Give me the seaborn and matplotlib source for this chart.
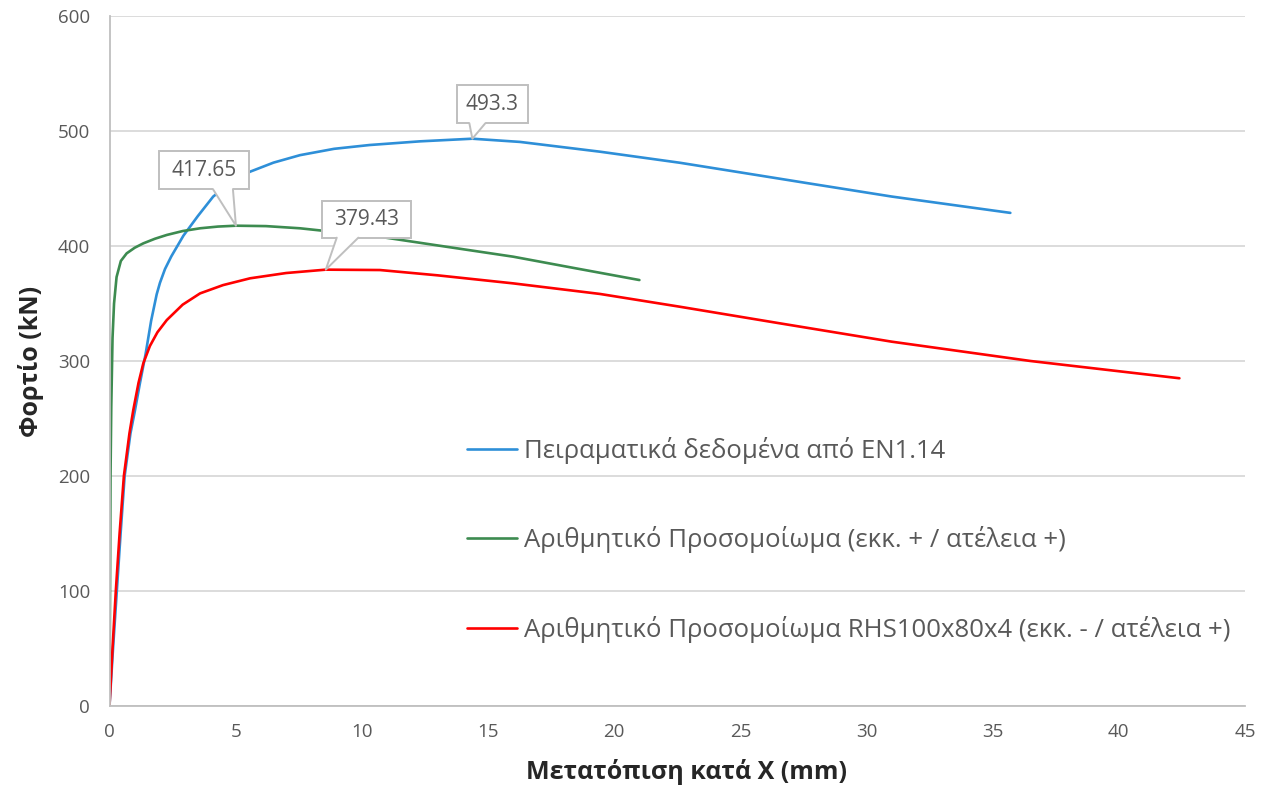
import numpy as np
import pandas as pd
import matplotlib
matplotlib.use('Agg')
from matplotlib import pyplot as plt
from matplotlib.patches import Rectangle, Polygon
from matplotlib.lines import Line2D
from matplotlib.transforms import IdentityTransform
import seaborn as sns

# displacement (mm) / load (kN)
exp_x = [0, 0.14, 0.29, 0.44, 0.6, 0.83, 1.0, 1.2, 1.43, 1.65, 1.87, 2.0, 2.2, 2.45,
         2.93, 3.5, 4.11, 4.8, 5.57, 6.5, 7.55, 8.9, 10.3, 12.3, 14.38, 16.27,
         19.44, 22.6, 25.0, 27.7, 31.0, 35.7]
exp_y = [0, 50, 100, 150, 200, 237, 256, 280, 306, 335, 358, 368, 380, 391,
         409, 426, 443, 455, 464.6, 472.5, 479, 484.5, 487.8, 491, 493.3, 490.5,
         482, 472.4, 464, 454.5, 443, 428.8]

num1_x = [0, 0.02, 0.04, 0.07, 0.12, 0.18, 0.28, 0.45, 0.68, 1.0, 1.34, 1.8, 2.27,
          2.9, 3.59, 4.3, 5.01, 6.2, 7.55, 9.0, 10.72, 13.0, 16.0, 18.5, 21.0]
num1_y = [0, 100, 200, 260, 320, 350, 373, 387, 393.6, 398.5, 402.3, 406.3, 409.6,
          413, 415.4, 416.9, 417.65, 417.3, 415.4, 412, 408, 400.5, 390.7, 380.5, 370.4]

num2_x = [0, 0.12, 0.25, 0.4, 0.57, 0.79, 0.94, 1.15, 1.34, 1.6, 1.9, 2.27, 2.9,
          3.59, 4.5, 5.57, 7.0, 8.57, 10.72, 13.0, 16.0, 19.44, 22.6, 26.5, 31.0,
          36.5, 42.4]
num2_y = [0, 50, 100, 150, 200, 237, 257, 281, 298, 313, 325, 335.6, 349,
          358.8, 366, 371.9, 376.5, 379.43, 379.1, 374.5, 367.5, 358.3, 347.2, 333,
          316.8, 300, 285]

peaks_x = [14.38, 5.01, 8.57]
peaks_y = [493.3, 417.65, 379.43]
peak_labels = ['493.3', '417.65', '379.43']

series_names = [
    'Πειραματικά δεδομένα από EN1.14',
    'Αριθμητικό Προσομοίωμα (εκκ. + / ατέλεια +)',
    'Αριθμητικό Προσομοίωμα RHS100x80x4 (εκκ. - / ατέλεια +)',
]
series_colors = ['#2E8FD8', '#3D8B50', '#FF0000']

x_label = 'Μετατόπιση κατά X (mm)'
y_label = 'Φορτίο (kN)'


def add_callout(ax, px, py, text, box, base):
    # callout box (pixels, relative to the data point) with a pointer to the point
    dx, dy, w, h = box
    tx, ty = ax.transData.transform((px, py))
    bx, by = tx + dx, ty + dy
    ident = IdentityTransform()
    edge = '#bfbfbf'
    ax.add_patch(Rectangle((bx - w / 2, by - h / 2), w, h, transform=ident,
                           fc='white', ec=edge, lw=1.4, zorder=5, clip_on=False))
    y0 = by - h / 2
    x0, x1 = tx + base[0], tx + base[1]
    ax.add_patch(Polygon([(tx, ty), (x0, y0), (x0, y0 + 2), (x1, y0 + 2), (x1, y0)],
                         closed=True, transform=ident, fc='white', ec='none',
                         zorder=6, clip_on=False))
    ax.add_line(Line2D([x0, tx, x1], [y0, ty, y0], transform=ident, color=edge,
                       lw=1.4, zorder=7, clip_on=False))
    ax.text(bx, by, text, transform=ident, ha='center', va='center', fontsize=15,
            color='#595959', zorder=8)


def plot_curves(fig_name):
    sns.set_theme(style='white')
    plt.rcParams['font.family'] = ['Open Sans', 'DejaVu Sans']

    fig = plt.figure(figsize=(12.78, 7.85), dpi=100)
    ax = fig.add_axes([109.5 / 1278, 1 - 706 / 785, 1135.5 / 1278, 690 / 785])

    curves = [(exp_x, exp_y), (num1_x, num1_y), (num2_x, num2_y)]
    for (xs, ys), name, color in zip(curves, series_names, series_colors):
        df = pd.DataFrame({'x': xs, 'y': ys})
        sns.lineplot(data=df, x='x', y='y', ax=ax, color=color, lw=1.9,
                     label=name, estimator=None, sort=False)

    ax.set_xlim(0, 45)
    ax.set_ylim(0, 600)
    ax.set_xticks(np.arange(0, 46, 5))
    ax.set_yticks(np.arange(0, 601, 100))
    ax.yaxis.grid(True, color='#d9d9d9', lw=1.3)
    ax.xaxis.grid(False)
    for side in ['top', 'right']:
        ax.spines[side].set_visible(False)
    for side in ['left', 'bottom']:
        ax.spines[side].set_color('#bfbfbf')
        ax.spines[side].set_linewidth(1.3)
    ax.tick_params(axis='both', length=0, labelsize=13.5, labelcolor='#595959')
    ax.tick_params(axis='y', pad=14)
    ax.tick_params(axis='x', pad=12)

    ax.set_xlabel(x_label, fontsize=18, fontweight='bold', va='center')
    ax.set_ylabel(y_label, fontsize=18, fontweight='bold', va='center')
    ax.xaxis.set_label_coords(0.508, -0.0957)
    ax.yaxis.set_label_coords(-0.0691, 0.5)

    boxes = [(20, 34.5, 71, 38), (-31.7, 55.6, 90, 38), (40.7, 50.5, 89, 37)]
    bases = [(-3, 13), (-23, -3), (11, 32.6)]
    for px, py, txt, box, base in zip(peaks_x, peaks_y, peak_labels, boxes, bases):
        add_callout(ax, px, py, txt, box, base)

    ax.legend(loc='center left', bbox_to_anchor=(0.3148, 0.2406), frameon=False,
              fontsize=18.5, labelcolor='#595959', handlelength=1.94, handletextpad=0.27,
              labelspacing=2.45, borderpad=0, borderaxespad=0)

    fig.savefig(fig_name, dpi=100)


if __name__ == '__main__':
    plot_curves('out.png')
